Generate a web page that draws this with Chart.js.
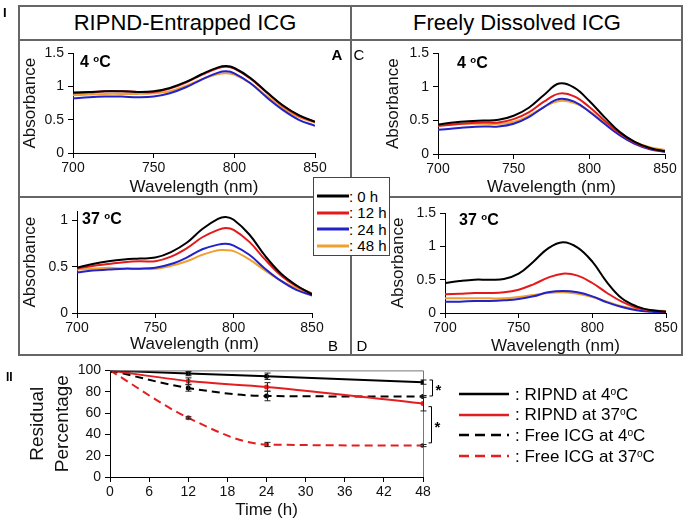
<!DOCTYPE html>
<html>
<head>
<meta charset="utf-8">
<script src="https://cdn.jsdelivr.net/npm/chart.js@4.4.1/dist/chart.umd.min.js"></script>
<style>
    body { margin: 0; background: #fff; font-family: "Liberation Sans", Arial, sans-serif; color: #000; }
    #page { position: relative; width: 689px; height: 528px; overflow: hidden; }
    #page canvas { position: absolute; }
    .hl { position: absolute; height: 2px; background: #666; }
    .vl { position: absolute; width: 2px; background: #666; }
    .txt { position: absolute; line-height: 1; white-space: nowrap; }
    .mid { transform: translate(-50%, -50%); }
    .vmid { transform: translateY(-50%); }
    sup { font-size: 0.6em; vertical-align: 0.5em; line-height: 0; }
    .row { position: absolute; display: flex; align-items: center; line-height: 1; white-space: nowrap; }
    #legend-hours { position: absolute; left: 313px; top: 177px; width: 77px; height: 79px; box-sizing: border-box; border: 1px solid #444; background: #fff; }
</style>
</head>
<body>
<div id="page">
    <canvas id="chart-a" width="330" height="157" style="left:20px;top:41px"></canvas>
    <canvas id="chart-c" width="330" height="157" style="left:352px;top:41px"></canvas>
    <canvas id="chart-b" width="330" height="156" style="left:20px;top:199px"></canvas>
    <canvas id="chart-d" width="330" height="158" style="left:352px;top:199px"></canvas>
    <canvas id="chart-time" width="440" height="163" style="left:20px;top:358px"></canvas>

    <!-- frame -->
    <div class="hl" style="left:18px;top:5px;width:665px"></div>
    <div class="hl" style="left:18px;top:39px;width:665px"></div>
    <div class="hl" style="left:18px;top:196px;width:665px"></div>
    <div class="hl" style="left:18px;top:354px;width:665px"></div>
    <div class="vl" style="left:18px;top:5px;height:351px"></div>
    <div class="vl" style="left:350px;top:5px;height:351px"></div>
    <div class="vl" style="left:681px;top:5px;height:351px"></div>

    <div class="txt" style="left:3px;top:6px;font-size:13px;font-weight:bold">I</div>
    <div class="txt" style="left:6px;top:371px;font-size:12px;font-weight:bold">II</div>
    <div class="txt mid" style="left:185px;top:23px;font-size:22px">RIPND-Entrapped ICG</div>
    <div class="txt mid" style="left:517px;top:23px;font-size:22px">Freely Dissolved ICG</div>

    <div class="txt mid" style="left:337px;top:54px;font-size:15px;font-weight:bold">A</div>
    <div class="txt mid" style="left:359px;top:54px;font-size:15px">C</div>
    <div class="txt mid" style="left:333px;top:345px;font-size:15px">B</div>
    <div class="txt mid" style="left:362px;top:345px;font-size:15px">D</div>

    <div class="txt vmid" style="left:80px;top:62px;font-size:16px;font-weight:bold">4 <sup>o</sup>C</div>
    <div class="txt vmid" style="left:457px;top:63px;font-size:16px;font-weight:bold">4 <sup>o</sup>C</div>
    <div class="txt vmid" style="left:82px;top:219px;font-size:16px;font-weight:bold">37 <sup>o</sup>C</div>
    <div class="txt vmid" style="left:459px;top:220px;font-size:16px;font-weight:bold">37 <sup>o</sup>C</div>

    <div id="legend-hours"></div>
    <div id="legend-time"></div>
</div>

<script>
// wavelengths (nm)
const wlRipnd = [700, 710, 720, 730, 740, 750, 760, 770, 780, 790, 795, 800, 810, 820, 830, 840, 850];
const wlFree = [700, 710, 720, 730, 740, 750, 760, 770, 780, 790, 800, 810, 820, 830, 840, 850];
const wlTicks = [700, 750, 800, 850];
const absTicks = [0, 0.5, 1, 1.5];

const hourLabels = ['0 h', '12 h', '24 h', '48 h'];
const hourColors = ['#000000', '#e31a1c', '#2222c8', '#f0a030'];

// A: RIPND-entrapped, 4 oC
const ripnd4_0h = [0.91, 0.92, 0.93, 0.93, 0.92, 0.93, 0.98, 1.07, 1.19, 1.29, 1.31, 1.28, 1.13, 0.92, 0.72, 0.57, 0.47];
const ripnd4_12h = [0.90, 0.91, 0.93, 0.93, 0.92, 0.92, 0.97, 1.06, 1.18, 1.28, 1.30, 1.27, 1.12, 0.91, 0.71, 0.56, 0.47];
const ripnd4_24h = [0.82, 0.84, 0.85, 0.85, 0.84, 0.85, 0.90, 0.99, 1.11, 1.21, 1.23, 1.20, 1.05, 0.84, 0.65, 0.50, 0.41];
const ripnd4_48h = [0.87, 0.88, 0.89, 0.89, 0.89, 0.90, 0.93, 1.01, 1.11, 1.19, 1.20, 1.18, 1.05, 0.86, 0.68, 0.54, 0.46];

// B: RIPND-entrapped, 37 oC
const ripnd37_0h = [0.49, 0.53, 0.56, 0.58, 0.59, 0.60, 0.66, 0.76, 0.91, 1.02, 1.04, 1.01, 0.85, 0.62, 0.43, 0.30, 0.20];
const ripnd37_12h = [0.48, 0.51, 0.53, 0.55, 0.56, 0.56, 0.61, 0.70, 0.82, 0.90, 0.92, 0.90, 0.77, 0.58, 0.41, 0.29, 0.21];
const ripnd37_24h = [0.44, 0.46, 0.47, 0.48, 0.48, 0.49, 0.53, 0.60, 0.69, 0.74, 0.75, 0.73, 0.63, 0.48, 0.35, 0.25, 0.19];
const ripnd37_48h = [0.47, 0.48, 0.49, 0.48, 0.48, 0.48, 0.51, 0.56, 0.63, 0.68, 0.68, 0.67, 0.58, 0.46, 0.35, 0.27, 0.21];

// C: freely dissolved, 4 oC
const free4_0h = [0.44, 0.47, 0.49, 0.50, 0.51, 0.57, 0.69, 0.88, 1.05, 0.99, 0.79, 0.55, 0.33, 0.18, 0.09, 0.04];
const free4_12h = [0.42, 0.44, 0.46, 0.47, 0.47, 0.52, 0.62, 0.78, 0.90, 0.86, 0.70, 0.50, 0.31, 0.17, 0.08, 0.04];
const free4_24h = [0.36, 0.38, 0.40, 0.41, 0.41, 0.45, 0.55, 0.70, 0.82, 0.78, 0.63, 0.45, 0.28, 0.15, 0.07, 0.03];
const free4_48h = [0.42, 0.44, 0.45, 0.45, 0.45, 0.48, 0.57, 0.70, 0.79, 0.76, 0.64, 0.47, 0.31, 0.18, 0.10, 0.06];

// D: freely dissolved, 37 oC
const free37_0h = [0.45, 0.48, 0.50, 0.50, 0.51, 0.59, 0.77, 0.97, 1.06, 0.98, 0.77, 0.46, 0.22, 0.10, 0.04, 0.02];
const free37_12h = [0.28, 0.29, 0.30, 0.30, 0.31, 0.35, 0.43, 0.53, 0.59, 0.56, 0.45, 0.30, 0.17, 0.08, 0.04, 0.02];
const free37_24h = [0.17, 0.17, 0.18, 0.18, 0.19, 0.21, 0.25, 0.31, 0.33, 0.31, 0.25, 0.16, 0.09, 0.04, 0.02, 0.01];
const free37_48h = [0.22, 0.22, 0.22, 0.22, 0.22, 0.24, 0.27, 0.30, 0.31, 0.29, 0.24, 0.17, 0.10, 0.06, 0.04, 0.03];

// II: residual percentage over time
const timeH = [0, 12, 24, 48];
const timeTicks = [0, 6, 12, 18, 24, 30, 36, 42, 48];
const ripnd4Resid = [100, 97, 94.5, 89];
const ripnd4Err = [0, 2, 3, 2];
const ripnd37Resid = [100, 90, 84.5, 69];
const ripnd37Err = [0, 3, 4, 7];
const free4Resid = [100, 83.5, 76, 75.5];
const free4Err = [0, 3, 4.5, 1];
const free37Resid = [100, 55.5, 30.5, 29.5];
const free37Err = [0, 1, 2, 1];
const sigPairs = [[91, 76], [66, 32]];

Chart.defaults.font.family = '"Liberation Sans", Arial, sans-serif';
Chart.defaults.color = '#111';
Chart.defaults.animation = false;

function axisStyle() {
    return {
        grid: { drawOnChartArea: false, color: '#000', tickLength: 5 },
        border: { color: '#000', width: 1 }
    };
}

function spectrumChart(id, wl, series, yMax, box) {
    return new Chart(document.getElementById(id), {
        type: 'line',
        data: {
            datasets: series.map((vals, i) => ({
                label: hourLabels[i],
                data: vals.map((v, k) => ({ x: wl[k], y: v })),
                borderColor: hourColors[i],
                borderWidth: 2,
                pointRadius: 0,
                tension: 0.4,
                fill: false
            }))
        },
        options: {
            responsive: false,
            layout: { padding: { left: box.pl, top: box.pt, right: box.pr, bottom: 0 } },
            plugins: { legend: { display: false }, tooltip: { enabled: false } },
            scales: {
                x: {
                    type: 'linear', min: 700, max: 850,
                    afterBuildTicks: s => { s.ticks = wlTicks.map(v => ({ value: v })); },
                    ticks: { font: { size: 14 }, padding: 2, maxRotation: 0, callback: v => String(v) },
                    title: { display: true, text: 'Wavelength (nm)', font: { size: 17 }, padding: 0 },
                    afterFit: s => { s.height = box.xh; },
                    ...axisStyle()
                },
                y: {
                    min: 0, max: yMax,
                    afterBuildTicks: s => { s.ticks = absTicks.filter(v => v <= yMax).map(v => ({ value: v })); },
                    ticks: { font: { size: 14 }, padding: 4, callback: v => String(v) },
                    title: { display: true, text: 'Absorbance', font: { size: 17 }, padding: 0 },
                    afterFit: s => { s.width = box.yw; },
                    ...axisStyle()
                }
            }
        }
    });
}

spectrumChart('chart-a', wlRipnd, [ripnd4_0h, ripnd4_12h, ripnd4_24h, ripnd4_48h], 1.5, { pl: 0, yw: 53, pr: 35, pt: 9, xh: 45 });
spectrumChart('chart-c', wlFree, [free4_0h, free4_12h, free4_24h, free4_48h], 1.5, { pl: 31, yw: 55, pr: 17, pt: 10, xh: 44 });
spectrumChart('chart-b', wlRipnd, [ripnd37_0h, ripnd37_12h, ripnd37_24h, ripnd37_48h], 1.1, { pl: 0, yw: 57, pr: 38, pt: 12, xh: 42 });
spectrumChart('chart-d', wlFree, [free37_0h, free37_12h, free37_24h, free37_48h], 1.5, { pl: 36, yw: 57, pr: 16, pt: 14, xh: 44 });

// error bars, plot frame and significance brackets for panel II
const timeExtras = {
    id: 'timeExtras',
    afterDatasetsDraw(chart) {
        const { ctx, chartArea: a } = chart;
        const x = chart.scales.x, y = chart.scales.y;
        ctx.save();
        ctx.lineWidth = 1;
        ctx.strokeStyle = '#777';
        ctx.beginPath();
        ctx.moveTo(a.left, a.top + 0.5);
        ctx.lineTo(a.right + 0.5, a.top + 0.5);
        ctx.lineTo(a.right + 0.5, a.bottom);
        ctx.stroke();

        ctx.strokeStyle = '#222';
        chart.data.datasets.forEach(ds => {
            ds.data.forEach((p, k) => {
                const e = ds.errors[k];
                if (!e) return;
                const px = Math.round(x.getPixelForValue(p.x)) + 0.5;
                const top = y.getPixelForValue(p.y + e);
                const bot = y.getPixelForValue(p.y - e);
                ctx.beginPath();
                ctx.moveTo(px, top); ctx.lineTo(px, bot);
                ctx.moveTo(px - 3, top); ctx.lineTo(px + 3, top);
                ctx.moveTo(px - 3, bot); ctx.lineTo(px + 3, bot);
                ctx.stroke();
            });
        });

        ctx.strokeStyle = '#000';
        ctx.fillStyle = '#000';
        ctx.font = 'bold 15px "Liberation Sans", Arial, sans-serif';
        ctx.textBaseline = 'middle';
        sigPairs.forEach(([hi, lo], i) => {
            const bx = a.right + 9.5 - i;
            const t = y.getPixelForValue(hi), b = y.getPixelForValue(lo);
            ctx.beginPath();
            ctx.moveTo(bx - 3, t); ctx.lineTo(bx, t); ctx.lineTo(bx, b); ctx.lineTo(bx - 3, b);
            ctx.stroke();
            ctx.fillText('*', bx + 3, (t + b) / 2 + 3);
        });
        ctx.restore();
    }
};

function timeSet(label, vals, errs, color, dashed) {
    return {
        label: label,
        data: vals.map((v, k) => ({ x: timeH[k], y: v })),
        errors: errs,
        borderColor: color,
        backgroundColor: color,
        borderWidth: 2,
        borderDash: dashed ? [8, 5] : [],
        pointRadius: 2.5,
        pointBorderWidth: 0,
        pointBackgroundColor: color,
        cubicInterpolationMode: 'monotone',
        fill: false
    };
}

new Chart(document.getElementById('chart-time'), {
    type: 'line',
    data: {
        datasets: [
            timeSet('RIPND at 4oC', ripnd4Resid, ripnd4Err, '#000', false),
            timeSet('RIPND at 37oC', ripnd37Resid, ripnd37Err, '#e41e20', false),
            timeSet('Free ICG at 4oC', free4Resid, free4Err, '#000', true),
            timeSet('Free ICG at 37oC', free37Resid, free37Err, '#e41e20', true)
        ]
    },
    options: {
        responsive: false,
        layout: { padding: { left: 5, top: 9, right: 37, bottom: 0 } },
        plugins: { legend: { display: false }, tooltip: { enabled: false } },
        scales: {
            x: {
                type: 'linear', min: 0, max: 48,
                afterBuildTicks: s => { s.ticks = timeTicks.map(v => ({ value: v })); },
                ticks: { font: { size: 14 }, padding: 2, maxRotation: 0 },
                title: { display: true, text: 'Time (h)', font: { size: 17 }, padding: 0 },
                afterFit: s => { s.height = 44; },
                ...axisStyle()
            },
            y: {
                min: 0, max: 100,
                ticks: { stepSize: 20, font: { size: 14 }, padding: 4 },
                title: { display: true, text: ['Residual', 'Percentage'], font: { size: 19, lineHeight: 1.32 }, padding: 0 },
                afterFit: s => { s.width = 85; },
                ...axisStyle()
            }
        }
    },
    plugins: [timeExtras]
});

// legend for hours (panel I)
let result = '';
hourLabels.forEach((label, i) => {
    result += `
        <div class="row" style="left:3px;top:${10 + i * 16.6}px;height:16px;font-size:15px">
            <svg width="32" height="4"><line x1="0" y1="2" x2="32" y2="2" stroke="${hourColors[i]}" stroke-width="3"/></svg>
            <span>: ${label}</span>
        </div>
    `;
});
document.getElementById('legend-hours').innerHTML = result;

// legend for panel II
const timeLegend = [
    { text: ': RIPND at 4<sup>o</sup>C', color: '#000', dash: '' },
    { text: ': RIPND at 37<sup>o</sup>C', color: '#e41e20', dash: '' },
    { text: ': Free ICG at 4<sup>o</sup>C', color: '#000', dash: '10,6' },
    { text: ': Free ICG at 37<sup>o</sup>C', color: '#e41e20', dash: '10,6' }
];
result = '';
timeLegend.forEach((item, i) => {
    result += `
        <div class="row" style="left:459px;top:${384 + i * 20.7}px;height:20px;font-size:17px">
            <svg width="56" height="4"><line x1="0" y1="2" x2="50" y2="2" stroke="${item.color}" stroke-width="2.5" stroke-dasharray="${item.dash}"/></svg>
            <span>${item.text}</span>
        </div>
    `;
});
document.getElementById('legend-time').innerHTML = result;
</script>
</body>
</html>
